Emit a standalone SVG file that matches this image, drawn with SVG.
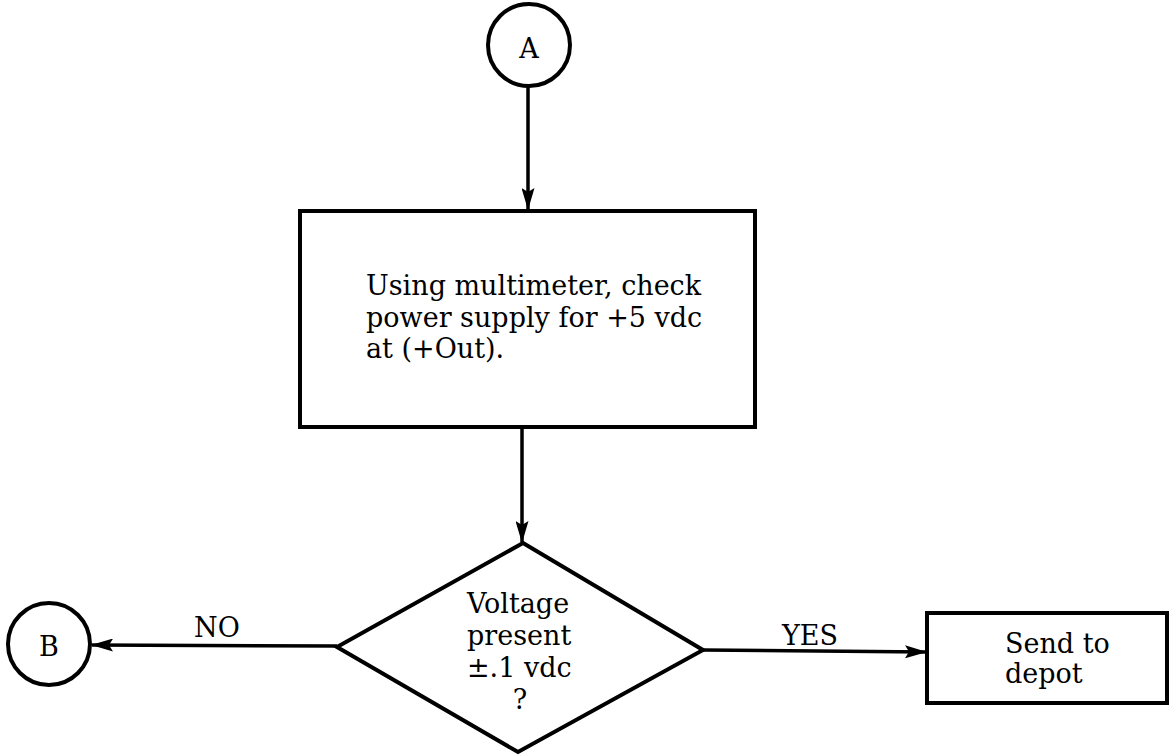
<svg xmlns="http://www.w3.org/2000/svg" width="1175" height="755" viewBox="0 0 1175 755">
<style>
.shape{fill:none;stroke:#000;stroke-width:4}
.line{fill:none;stroke:#000;stroke-width:3.5}
.t{font-family:"DejaVu Serif","Liberation Serif",serif;font-size:27px;fill:#000}
.c{text-anchor:middle}
</style>
<defs>
<marker id="arr" markerWidth="22" markerHeight="13" refX="21" refY="6.5" orient="auto" markerUnits="userSpaceOnUse">
<path d="M0,0 L22,6.5 L0,13 L4,6.5 Z" fill="#000"/>
</marker>
</defs>
<rect width="1175" height="755" fill="#fff"/>
<g id="connectors">
<line class="line" x1="528" y1="87" x2="528" y2="209" marker-end="url(#arr)"/>
<line class="line" x1="522" y1="428" x2="522" y2="542" marker-end="url(#arr)"/>
<line class="line" x1="337" y1="646" x2="92" y2="645" marker-end="url(#arr)"/>
<line class="line" x1="703" y1="650" x2="926" y2="652" marker-end="url(#arr)"/>
<text class="t c" x="217" y="637">NO</text>
<text class="t c" x="810" y="645">YES</text>
</g>
<g id="nodeA">
<circle class="shape" cx="529" cy="45" r="41"/>
<text class="t c" x="529" y="58">A</text>
</g>
<g id="nodeCheck">
<rect class="shape" x="300" y="211" width="455" height="216"/>
<text class="t" x="366" y="295">Using multimeter, check</text>
<text class="t" x="366" y="327">power supply for +5 vdc</text>
<text class="t" x="366" y="358">at (+Out).</text>
</g>
<g id="nodeDecision">
<path class="shape" d="M523,543 L703,650 L518,752 L337,647 Z"/>
<text class="t" x="467" y="613">Voltage</text>
<text class="t" x="467" y="645">present</text>
<text class="t" x="467" y="677">±.1 vdc</text>
<text class="t c" x="520" y="709">?</text>
</g>
<g id="nodeB">
<circle class="shape" cx="49" cy="644" r="41"/>
<text class="t c" x="49" y="656">B</text>
</g>
<g id="nodeDepot">
<rect class="shape" x="927" y="613" width="240" height="90"/>
<text class="t" x="1005" y="653">Send to</text>
<text class="t" x="1005" y="683">depot</text>
</g>
</svg>
